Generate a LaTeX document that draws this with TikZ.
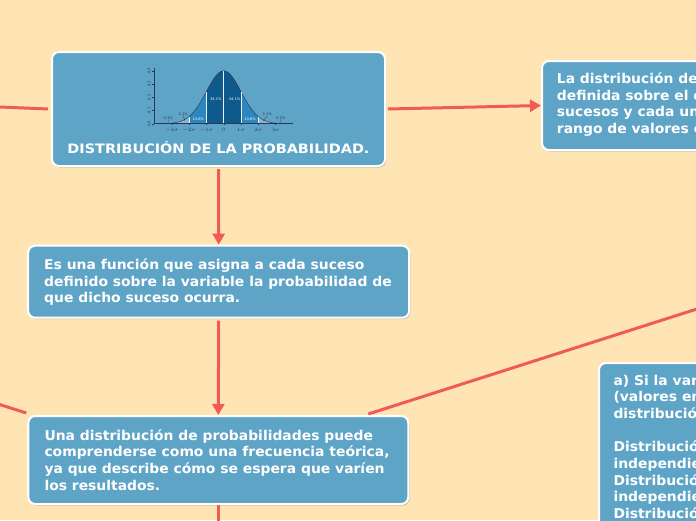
\documentclass[tikz,border=0pt]{standalone}
\usepackage{fontspec}
\setmainfont{DejaVu Sans}[BoldFont={DejaVu Sans Bold}]
\newfontfamily\mapfont{DejaVu Sans Bold}[FakeStretch=1.03]
\newfontfamily\titlefont{DejaVu Sans Bold}[FakeStretch=1.11]
\usetikzlibrary{arrows.meta,shadows}
\definecolor{bg}{HTML}{FFE5B4}
\definecolor{boxblue}{HTML}{5EA4C7}
\definecolor{link}{HTML}{F05A5A}
\definecolor{cdark}{HTML}{0E5A8C}
\definecolor{cmed}{HTML}{2C87C0}
\definecolor{clight}{HTML}{8AB6D5}
\definecolor{clighter}{HTML}{B5CEE0}
\definecolor{axis}{HTML}{2A3A4A}
\tikzset{
  mapbox/.style={draw=white, line width=2pt, fill=boxblue, rounded corners=7pt, inner sep=0pt,
    drop shadow={shadow xshift=1.2pt, shadow yshift=-1.5pt, opacity=0.35, fill=black!60}},
  boxtext/.style={inner sep=0pt, text=white, font=\mapfont\fontsize{13.5}{16.7}\selectfont},
  titletext/.style={inner sep=0pt, text=white, font=\titlefont\fontsize{13}{15}\selectfont},
  link/.style={draw=link, line width=3pt},
  linkarrow/.style={link, -{Triangle[length=11pt,width=12pt]}},
  tiny/.style={inner sep=0pt, font=\fontsize{3.6}{4}\selectfont}
}
\newcommand{\linesbox}[1]{\parbox[t]{500pt}{\raggedright #1}}
\begin{document}
\begin{tikzpicture}[x=1pt,y=-1pt]
\useasboundingbox (0,0) rectangle (696,520);
\fill[bg] (0,0) rectangle (696,520);
\begin{scope}
\clip (0,0) rectangle (696,520);
% boxes
\node[mapbox, minimum width=333pt, minimum height=114pt] (main) at (218.5,109) {};
\node[mapbox, anchor=north west, minimum width=300pt, minimum height=89pt] (rtop) at (541,60) {};
\node[mapbox, minimum width=381pt, minimum height=72pt] (def) at (218.7,281.7) {};
\node[mapbox, minimum width=380pt, minimum height=88pt] (freq) at (218.3,460) {};
\node[mapbox, anchor=north west, minimum width=300pt, minimum height=250pt] (rbot) at (598,362) {};
% connectors
\coordinate (inL1) at (0,107);
\coordinate (inL2) at (-2,404);
\coordinate (outR) at (700,308);
\coordinate (outB) at (218.3,530);
\draw[link] (inL1) -- ([xshift=-3pt]main.west);
\draw[linkarrow] ([xshift=2pt]main.east) -- (rtop.west);
\draw[linkarrow] ([yshift=-2pt]main.south) -- (def.north);
\draw[linkarrow] ([yshift=-2pt]def.south) -- (freq.north);
\draw[link] (freq.south) -- (outB);
\draw[link] (inL2) -- ([xshift=-1pt,yshift=2pt]freq.north west);
\draw[link] ([xshift=-41pt,yshift=1pt]freq.north east) -- (outR);
% texts
\node[titletext, anchor=base] (tmain) at (218.5,153) {DISTRIBUCIÓN DE LA PROBABILIDAD.};
\node[boxtext, anchor=base west] (trtop) at (556.7,83.3) {\linesbox{La distribución de\\definida sobre el c\\sucesos y cada un\\rango de valores e}};
\node[boxtext, anchor=base west] (tdef) at (44,269.3) {\linesbox{Es una función que asigna a cada suceso\\definido sobre la variable la probabilidad de\\que dicho suceso ocurra.}};
\node[boxtext, anchor=base west] (tfreq) at (44.3,440) {\linesbox{Una distribución de probabilidades puede\\comprenderse como una frecuencia teórica,\\ya que describe cómo se espera que varíen\\los resultados.}};
\node[boxtext, anchor=base west] (trbot) at (613.3,385) {\linesbox{a) Si la var\\(valores en\\distribució\\[16.7pt]Distribució\\independie\\Distribució\\independie\\Distribució}};
\end{scope}
% bell curve picture
\def\cx{223.7}\def\sg{17.3}\def\by{123.7}\def\hs{132.5}
\fill[clighter] (\cx-3.9*\sg,\by) -- plot[domain=-3.9:3.9,samples=90] ({\cx+\sg*\x},{\by-\hs*0.39894*exp(-(\x)*(\x)/2)}) -- (\cx+3.9*\sg,\by) -- cycle;
\fill[clight] (\cx-3*\sg,\by) -- plot[domain=-3:3,samples=80] ({\cx+\sg*\x},{\by-\hs*0.39894*exp(-(\x)*(\x)/2)}) -- (\cx+3*\sg,\by) -- cycle;
\fill[cmed] (\cx-2*\sg,\by) -- plot[domain=-2:2,samples=60] ({\cx+\sg*\x},{\by-\hs*0.39894*exp(-(\x)*(\x)/2)}) -- (\cx+2*\sg,\by) -- cycle;
\fill[cdark] (\cx-1*\sg,\by) -- plot[domain=-1:1,samples=40] ({\cx+\sg*\x},{\by-\hs*0.39894*exp(-(\x)*(\x)/2)}) -- (\cx+1*\sg,\by) -- cycle;
\draw[axis, line width=0.5pt] plot[domain=-3.9:3.9,samples=90] ({\cx+\sg*\x},{\by-\hs*0.39894*exp(-(\x)*(\x)/2)});
\foreach \k in {-3,-2,-1,0,1,2,3}{
  \draw[white!85!boxblue, line width=0.6pt] ({\cx+\sg*\k},\by) -- ({\cx+\sg*\k},{\by-\hs*0.39894*exp(-(\k)*(\k)/2)});
}
\draw[axis, line width=0.5pt] (154,\by) -- (293,\by);
\draw[axis, line width=0.5pt] (154,\by) -- (154,68);
\foreach \v/\t in {0/0.0,1/0.1,2/0.2,3/0.3,4/0.4}{
  \draw[axis, line width=0.4pt] (152,{\by-\hs*\v/10}) -- (154,{\by-\hs*\v/10});
  \node[tiny, text=axis, rotate=90] at (149,{\by-\hs*\v/10}) {\t};
}
\foreach \k/\t in {-3/$-3\sigma$,-2/$-2\sigma$,-1/$-1\sigma$,0/$0$,1/$1\sigma$,2/$2\sigma$,3/$3\sigma$}{
  \draw[axis, line width=0.4pt] ({\cx+\sg*\k},\by) -- ({\cx+\sg*\k},{\by+1.5});
  \node[tiny, text=axis] at ({\cx+\sg*\k},130.3) {\t};
}
\node[tiny, text=white] at (215.8,99.3) {34.1\%};
\node[tiny, text=white] at (234.6,99.3) {34.1\%};
\node[tiny, text=white] at (198.3,119.3) {13.6\%};
\node[tiny, text=white] at (250,119.3) {13.6\%};
\node[tiny, text=axis] (p21l) at (183.3,114.3) {2.1\%};
\node[tiny, text=axis] (p21r) at (267.3,114.3) {2.1\%};
\node[tiny, text=axis] (p01l) at (168.3,117.7) {0.1\%};
\node[tiny, text=axis] (p01r) at (280.7,117.7) {0.1\%};
\draw[axis, line width=0.3pt] (p21l.south) -- (185,121);
\draw[axis, line width=0.3pt] (p21r.south) -- (263,121);
\draw[axis, line width=0.3pt] (p01l.south) -- (168,123.5);
\draw[axis, line width=0.3pt] (p01r.south) -- (281,123.5);
\end{tikzpicture}
\end{document}
